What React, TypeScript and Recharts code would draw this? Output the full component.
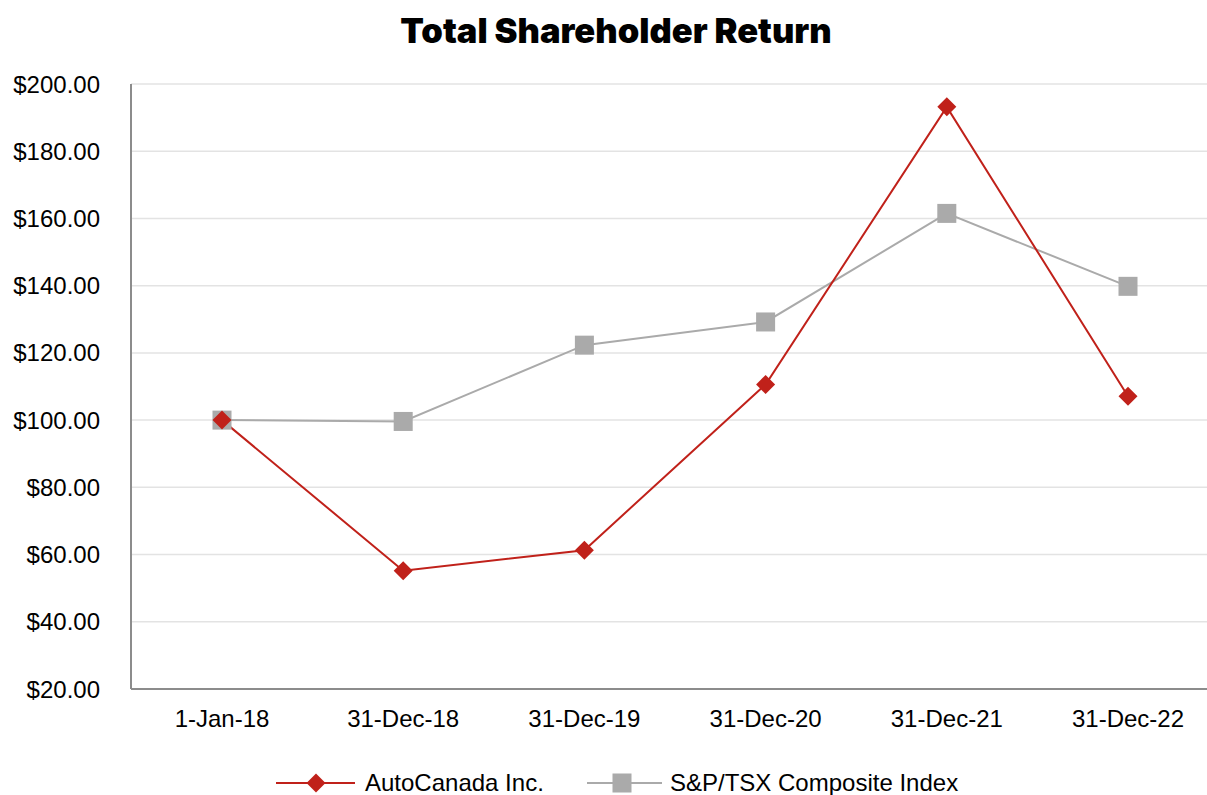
import React from 'react';
import { LineChart, Line, XAxis, YAxis, CartesianGrid, Legend } from 'recharts';

const categories = ['1-Jan-18', '31-Dec-18', '31-Dec-19', '31-Dec-20', '31-Dec-21', '31-Dec-22'];
const autoCanada = [100, 55.2, 61.3, 110.6, 193.2, 107.1];
const spTsx = [100, 99.6, 122.3, 129.2, 161.5, 139.8];
const yTicks = [20, 40, 60, 80, 100, 120, 140, 160, 180, 200];

const RED = '#c0211a';
const GREY = '#aaaaaa';
const FONT = '"Liberation Sans", Arial, sans-serif';

const data = categories.map((name, i) => ({ name, auto: autoCanada[i], sp: spTsx[i] }));

const Diamond = (props: any) => {
  const { cx, cy } = props;
  if (cx == null || cy == null) return null;
  const r = 9.5;
  return <path d={`M${cx},${cy - r}L${cx + r},${cy}L${cx},${cy + r}L${cx - r},${cy}Z`} fill={RED} />;
};

const Square = (props: any) => {
  const { cx, cy } = props;
  if (cx == null || cy == null) return null;
  const s = 19;
  return <rect x={cx - s / 2} y={cy - s / 2} width={s} height={s} fill={GREY} />;
};

const LegendContent = () => (
  <div style={{ position: 'relative', height: 56, fontFamily: FONT, fontSize: 24 }}>
    <svg width={90} height={24} style={{ position: 'absolute', left: 272, top: 32 }}>
      <line x1={4} y1={12} x2={83} y2={12} stroke={RED} strokeWidth={2} />
      <path d="M44,2.5L53.5,12L44,21.5L34.5,12Z" fill={RED} />
    </svg>
    <span style={{ position: 'absolute', left: 365, top: 32, lineHeight: '24px', color: '#000', whiteSpace: 'nowrap' }}>
      AutoCanada Inc.
    </span>
    <svg width={90} height={24} style={{ position: 'absolute', left: 583, top: 32 }}>
      <line x1={4} y1={12} x2={79} y2={12} stroke={GREY} strokeWidth={2} />
      <rect x={29.5} y={2.5} width={19} height={19} fill={GREY} />
    </svg>
    <span style={{ position: 'absolute', left: 670, top: 32, lineHeight: '24px', color: '#000', whiteSpace: 'nowrap' }}>
      S&amp;P/TSX Composite Index
    </span>
  </div>
);

export default function App() {
  return (
    <div style={{ position: 'absolute', left: 0, top: 0, width: 1207, height: 795, overflow: 'hidden', background: '#fff' }}>
      <div
        style={{
          position: 'absolute',
          left: 0,
          width: 1232,
          top: 13,
          lineHeight: '35px',
          textAlign: 'center',
          fontFamily: 'Inter, Lato, sans-serif',
          fontWeight: 900,
          fontSize: 34.5,
          color: '#000',
          zIndex: 2,
        }}
      >
        Total Shareholder Return
      </div>
      <LineChart width={1220} height={795} data={data} margin={{ top: 84, right: 1, bottom: 0, left: 0 }}>
        <CartesianGrid horizontal vertical={false} stroke="#e3e3e3" strokeWidth={1.5} />
        <XAxis
          dataKey="name"
          height={50}
          padding={{ left: 91, right: 91 }}
          tickLine={false}
          tickSize={0}
          tickMargin={21}
          axisLine={{ stroke: '#8c8c8c', strokeWidth: 2 }}
          tick={{ fill: '#000', fontSize: 24, fontFamily: FONT }}
        />
        <YAxis
          width={131}
          domain={[20, 200]}
          ticks={yTicks}
          tickLine={false}
          tickSize={0}
          tickMargin={31}
          axisLine={{ stroke: '#8c8c8c', strokeWidth: 2 }}
          tickFormatter={(v: number) => `$${v.toFixed(2)}`}
          tick={{ fill: '#000', fontSize: 24, fontFamily: FONT }}
        />
        <Legend verticalAlign="bottom" height={56} content={<LegendContent />} />
        <Line
          dataKey="sp"
          stroke={GREY}
          strokeWidth={2}
          dot={<Square />}
          activeDot={false}
          isAnimationActive={false}
        />
        <Line
          dataKey="auto"
          stroke={RED}
          strokeWidth={2}
          dot={<Diamond />}
          activeDot={false}
          isAnimationActive={false}
        />
      </LineChart>
    </div>
  );
}
